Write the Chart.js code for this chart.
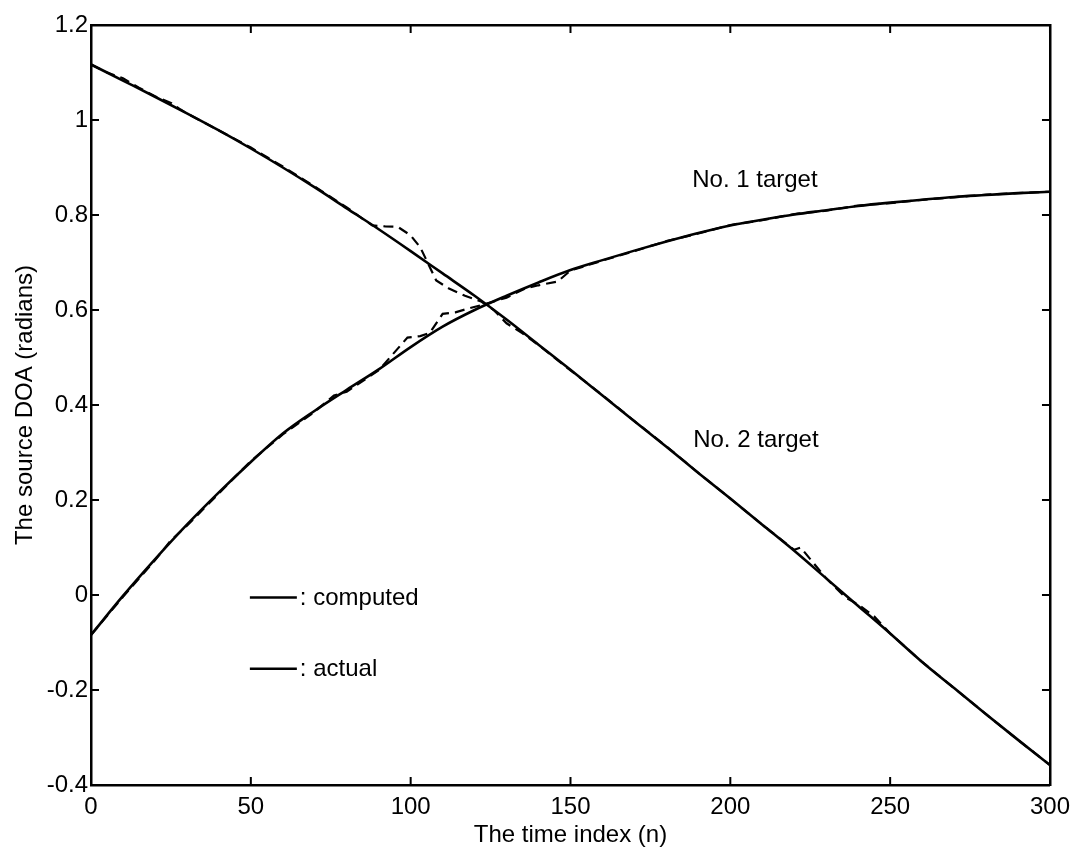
<!DOCTYPE html>
<html><head><meta charset="utf-8">
<script src="https://cdn.jsdelivr.net/npm/chart.js@4/dist/chart.umd.min.js"></script>
<style>html,body{margin:0;padding:0;background:#fff;}#wrap{width:1078px;height:853px;}</style>
</head><body><div id="wrap"><canvas id="c" width="1078" height="853"></canvas></div>
<script>
// ---- data ----
const timeIndex = [0,10,20,30,40,50,60,70,80,90,100,110,120,130,140,150,160,170,180,190,200,210,220,230,240,250,260,270,280,290,300];
const target1Actual = [-0.084,-0.002,0.075,0.148,0.216,0.280,0.340,0.388,0.432,0.475,0.522,0.565,0.600,0.630,0.658,0.684,0.705,0.725,0.744,0.762,0.778,0.790,0.801,0.810,0.819,0.826,0.832,0.838,0.842,0.846,0.849];
const target2Actual = [1.117,1.083,1.049,1.014,0.978,0.940,0.900,0.858,0.814,0.770,0.724,0.677,0.630,0.580,0.527,0.474,0.420,0.366,0.312,0.257,0.203,0.148,0.093,0.035,-0.023,-0.081,-0.141,-0.196,-0.251,-0.305,-0.358];

const computedIndex1 = [0,10,20,25,30,40,50,60,70,76,80,90,99,103,106,110,114,118,122,126,130,136,140,146,150,160,170,180,190,200,210,220,230,240,250,260,270,280,290,300];
const target1Computed = [-0.084,-0.004,0.073,0.115,0.146,0.214,0.282,0.338,0.386,0.420,0.428,0.473,0.542,0.545,0.552,0.592,0.595,0.603,0.610,0.618,0.626,0.646,0.652,0.660,0.683,0.704,0.724,0.745,0.761,0.779,0.789,0.802,0.809,0.820,0.825,0.832,0.837,0.843,0.846,0.849];

const computedIndex2 = [0,5,10,13,15,20,25,28,30,40,50,60,70,80,85,88,92,96,100,103,106,108,112,117,122,126,130,135,140,150,160,170,180,190,200,210,220,222,230,236,240,245,250,260,270,280,290,300];
const target2Computed = [1.117,1.100,1.088,1.076,1.068,1.050,1.036,1.022,1.014,0.978,0.942,0.902,0.860,0.816,0.792,0.778,0.776,0.775,0.757,0.732,0.690,0.662,0.645,0.630,0.618,0.600,0.572,0.551,0.526,0.473,0.421,0.366,0.313,0.257,0.203,0.148,0.095,0.100,0.035,-0.005,-0.020,-0.045,-0.081,-0.141,-0.196,-0.251,-0.305,-0.358];

const xTicks = [0,50,100,150,200,250,300];
const yTicks = [1.2,1,0.8,0.6,0.4,0.2,0,-0.2,-0.4];
const yTickLabels = ['1.2','1','0.8','0.6','0.4','0.2','0','-0.2','-0.4'];
const legendLabels = [': computed', ': actual'];
const targetLabels = ['No. 1 target', 'No. 2 target'];

// ---- helpers ----
const pts = (xs, ys) => xs.map((x, i) => ({x, y: ys[i]}));
const FONT = "'Liberation Sans', Arial, Helvetica, sans-serif";
const ink = '#000';

const frameTicks = {
  id: 'frameTicks',
  afterDraw(chart) {
    const {ctx, chartArea: a, scales: {x, y}} = chart;
    const L = 8;
    ctx.save();
    ctx.strokeStyle = ink; ctx.lineWidth = 2;
    xTicks.forEach(v => {
      const px = x.getPixelForValue(v);
      ctx.beginPath();
      ctx.moveTo(px, a.bottom); ctx.lineTo(px, a.bottom - L);
      ctx.moveTo(px, a.top); ctx.lineTo(px, a.top + L);
      ctx.stroke();
    });
    yTicks.forEach(v => {
      const py = y.getPixelForValue(v);
      ctx.beginPath();
      ctx.moveTo(a.left, py); ctx.lineTo(a.left + L, py);
      ctx.moveTo(a.right, py); ctx.lineTo(a.right - L, py);
      ctx.stroke();
    });
    ctx.restore();
  }
};

const notes = {
  id: 'notes',
  afterDatasetsDraw(chart) {
    const {ctx, scales: {x, y}} = chart;
    ctx.save();
    ctx.fillStyle = ink; ctx.strokeStyle = ink;
    ctx.font = '24px ' + FONT;
    ctx.textBaseline = 'middle';
    ctx.textAlign = 'center';
    ctx.fillText(targetLabels[0], x.getPixelForValue(207.7), y.getPixelForValue(0.873));
    ctx.fillText(targetLabels[1], x.getPixelForValue(208), y.getPixelForValue(0.325));
    // legend
    ctx.textAlign = 'left';
    ctx.lineWidth = 2.5;
    [-0.005, -0.155].forEach((v, i) => {
      const py = y.getPixelForValue(v);
      const x0 = x.getPixelForValue(49.7), x1 = x.getPixelForValue(64.4);
      ctx.beginPath(); ctx.moveTo(x0, py); ctx.lineTo(x1, py); ctx.stroke();
      ctx.fillText(legendLabels[i], x1 + 3, py + 1);
    });
    ctx.restore();
  }
};

const tickFont = {family: FONT, size: 24};
const baseBorder = {display: true, color: ink, width: 2.5};
const noGrid = {drawOnChartArea: false, drawTicks: false};

new Chart(document.getElementById('c'), {
  type: 'line',
  data: {
    datasets: [
      {label: 'No. 1 computed', data: pts(computedIndex1, target1Computed), borderColor: ink, borderWidth: 2.2, borderDash: [10, 6], pointRadius: 0, tension: 0, order: 2},
      {label: 'No. 2 computed', data: pts(computedIndex2, target2Computed), borderColor: ink, borderWidth: 2.2, borderDash: [10, 6], pointRadius: 0, tension: 0, order: 2},
      {label: 'No. 1 actual', data: pts(timeIndex, target1Actual), borderColor: ink, borderWidth: 2.6, pointRadius: 0, cubicInterpolationMode: 'monotone', order: 1},
      {label: 'No. 2 actual', data: pts(timeIndex, target2Actual), borderColor: ink, borderWidth: 2.6, pointRadius: 0, cubicInterpolationMode: 'monotone', order: 1}
    ]
  },
  options: {
    responsive: false,
    animation: false,
    devicePixelRatio: 1,
    layout: {padding: 0},
    plugins: {legend: {display: false}, tooltip: {enabled: false}},
    scales: {
      x: {
        type: 'linear', position: 'bottom', min: 0, max: 300,
        afterBuildTicks: s => { s.ticks = xTicks.map(v => ({value: v})); },
        ticks: {font: tickFont, color: ink, padding: 8, maxRotation: 0, autoSkip: false},
        grid: noGrid, border: baseBorder,
        title: {display: true, text: 'The time index (n)', font: tickFont, color: ink, padding: {top: 0, bottom: 3}},
        afterFit: s => { s.height = 68; }
      },
      x2: {
        type: 'linear', position: 'top', min: 0, max: 300,
        ticks: {display: false}, grid: noGrid, border: baseBorder,
        afterFit: s => { s.height = 25; }
      },
      y: {
        type: 'linear', position: 'left', min: -0.4, max: 1.2,
        afterBuildTicks: s => { s.ticks = yTicks.map(v => ({value: v})); },
        ticks: {font: tickFont, color: ink, padding: 3, callback: (v, i) => yTickLabels[i]},
        grid: noGrid, border: baseBorder,
        title: {display: true, text: 'The source DOA (radians)', font: tickFont, color: ink, padding: {top: 11, bottom: 0}},
        afterFit: s => { s.width = 91; }
      },
      y2: {
        type: 'linear', position: 'right', min: -0.4, max: 1.2,
        ticks: {display: false}, grid: noGrid, border: baseBorder,
        afterFit: s => { s.width = 28; }
      }
    }
  },
  plugins: [frameTicks, notes]
});
</script>
</body></html>
